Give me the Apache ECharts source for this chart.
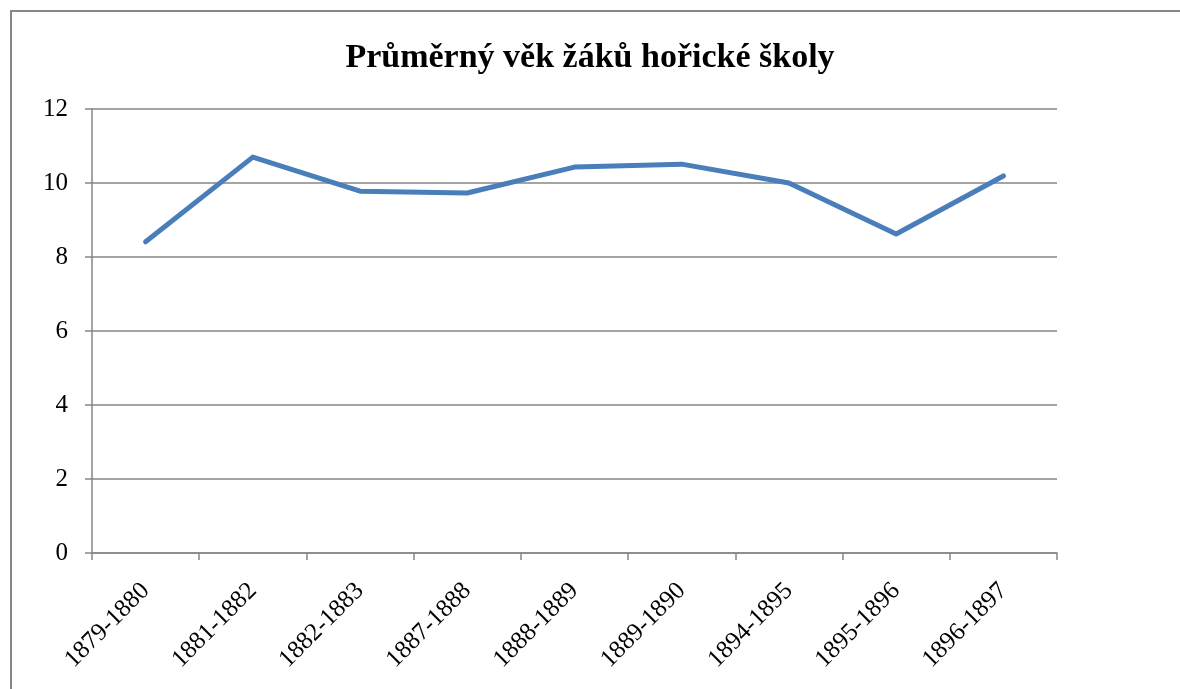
<!DOCTYPE html>
<html>
<head>
<meta charset="utf-8">
<script src="https://cdn.jsdelivr.net/npm/echarts@6/dist/echarts.min.js"></script>
<style>
  html, body { margin: 0; padding: 0; background: #fff; }
  #chart { width: 1180px; height: 689px; }
</style>
</head>
<body>
<div id="chart"></div>
<script>
// school years and average pupil age
const years = ['1879-1880', '1881-1882', '1882-1883', '1887-1888', '1888-1889', '1889-1890', '1894-1895', '1895-1896', '1896-1897'];
const avgAge = [8.41, 10.70, 9.78, 9.73, 10.43, 10.51, 10.0, 8.62, 10.19];
const yTicks = [0, 2, 4, 6, 8, 10, 12];

const chart = echarts.init(document.getElementById('chart'));
const font = '"Liberation Serif", "DejaVu Serif", serif';
const grey = '#868686';

const option = {
    animation: false,
    backgroundColor: '#fff',
    title: {
        text: 'Průměrný věk žáků hořické školy',
        left: 'center',
        top: 36,
        textStyle: { fontFamily: font, fontSize: 34, fontWeight: 'bold', color: '#000' }
    },
    graphic: [{
        type: 'polyline',
        shape: { points: [[11, 689], [11, 11], [1180, 11]] },
        style: { stroke: '#878787', lineWidth: 2, fill: null },
        silent: true
    }],
    grid: { left: 92, right: 123, top: 109, bottom: 136, containLabel: false },
    xAxis: {
        type: 'category',
        data: years,
        boundaryGap: true,
        axisLine: { lineStyle: { color: grey, width: 1.5 } },
        axisTick: { show: true, length: 7, alignWithLabel: false, lineStyle: { color: grey, width: 1.5 } },
        axisLabel: { rotate: 45, margin: 34, interval: 0, fontFamily: font, fontSize: 25, color: '#000' },
        splitLine: { show: false }
    },
    yAxis: {
        type: 'value',
        min: yTicks[0],
        max: yTicks[yTicks.length - 1],
        interval: 2,
        axisLine: { show: true, lineStyle: { color: grey, width: 1.5 } },
        axisTick: { show: true, length: 7, lineStyle: { color: grey, width: 1.5 } },
        axisLabel: { margin: 24, fontFamily: font, fontSize: 25, color: '#000' },
        splitLine: { show: true, lineStyle: { color: grey, width: 1.5 } }
    },
    series: [{
        type: 'line',
        data: avgAge,
        symbol: 'none',
        lineStyle: { color: '#4A7EBB', width: 5, cap: 'round', join: 'round' }
    }]
};
chart.setOption(option);
</script>
</body>
</html>
